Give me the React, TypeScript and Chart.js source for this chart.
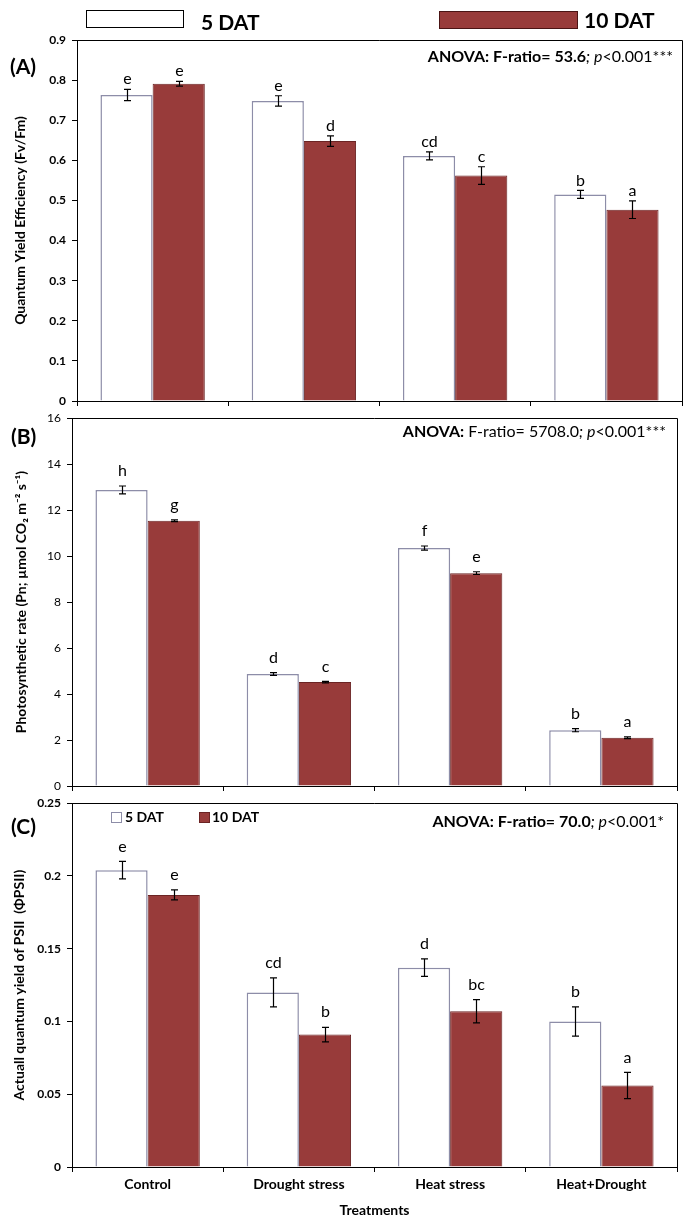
import React, { useEffect, useRef } from 'react';
import { Chart, registerables } from 'chart.js';
Chart.register(...registerables);

// ---------------- DATA ----------------
const categories = ['Control', 'Drought stress', 'Heat stress', 'Heat+Drought'];
const seriesNames = ['5 DAT', '10 DAT'];
const xTitle = 'Treatments';

// (A) Quantum yield efficiency (Fv/Fm)
const fvfm5 = [0.763, 0.748, 0.611, 0.515];
const fvfm10 = [0.791, 0.648, 0.562, 0.477];
const fvfmErr5 = [0.014, 0.013, 0.01, 0.01];
const fvfmErr10 = [0.006, 0.013, 0.022, 0.022];
const fvfmLetters5 = ['e', 'e', 'cd', 'b'];
const fvfmLetters10 = ['e', 'd', 'c', 'a'];
const fvfmTicks = { max: 0.9, step: 0.1 };

// (B) Photosynthetic rate
const pn5 = [12.88, 4.87, 10.35, 2.43];
const pn10 = [11.54, 4.52, 9.26, 2.1];
const pnErr5 = [0.17, 0.06, 0.09, 0.07];
const pnErr10 = [0.04, 0.03, 0.06, 0.04];
const pnLetters5 = ['h', 'd', 'f', 'b'];
const pnLetters10 = ['g', 'c', 'e', 'a'];
const pnTicks = { max: 16, step: 2 };

// (C) Actual quantum yield of PSII
const phi5 = [0.204, 0.12, 0.137, 0.1];
const phi10 = [0.187, 0.091, 0.107, 0.056];
const phiErr5 = [0.006, 0.01, 0.006, 0.01];
const phiErr10 = [0.0035, 0.005, 0.008, 0.009];
const phiLetters5 = ['e', 'cd', 'd', 'b'];
const phiLetters10 = ['e', 'b', 'bc', 'a'];
const phiTicks = { max: 0.25, step: 0.05 };

// ---------------- STYLE ----------------
const W = 688;
const FONT = 'Lato, "Open Sans", sans-serif';
const RED = '#983b3a';
const RED_BORDER = '#6b2424';
const WHITE_BORDER = '#8d8da8';

type Seg = { t: string; f: string };

function drawSegs(ctx: CanvasRenderingContext2D, segs: Seg[], xRight: number, yMid: number) {
  let total = 0;
  segs.forEach((s) => {
    ctx.font = s.f;
    total += ctx.measureText(s.t).width;
  });
  let x = xRight - total;
  ctx.textBaseline = 'middle';
  ctx.textAlign = 'left';
  ctx.fillStyle = '#000';
  segs.forEach((s) => {
    ctx.font = s.f;
    ctx.fillText(s.t, x, yMid);
    x += ctx.measureText(s.t).width;
  });
}

const fmt = (v: number) => String(Number(Number(v).toFixed(3)));

type Spec = {
  top: number;
  height: number;
  padTop: number;
  padRight: number;
  yWidth: number;
  xHeight: number;
  d5: number[];
  d10: number[];
  e5: number[];
  e10: number[];
  l5: string[];
  l10: string[];
  yMax: number;
  yStep: number;
  yTitle: string;
  tickBold: boolean;
  showX: boolean;
  letterGap: number;
  titlePad: number;
  label: string;
  labelPos: [number, number];
  anova: Seg[];
  anovaPos: [number, number];
  extra?: (ctx: CanvasRenderingContext2D, off: number) => void;
};

const B16 = `bold 16px ${FONT}`;
const N16 = `16px ${FONT}`;
const I16 = `italic 16px ${FONT}`;

const specs: Spec[] = [
  {
    top: 0,
    height: 415,
    padTop: 40,
    padRight: 6,
    yWidth: 77,
    xHeight: 14,
    d5: fvfm5,
    d10: fvfm10,
    e5: fvfmErr5,
    e10: fvfmErr10,
    l5: fvfmLetters5,
    l10: fvfmLetters10,
    yMax: fvfmTicks.max,
    yStep: fvfmTicks.step,
    yTitle: 'Quantum Yield Efficiency (Fv/Fm)',
    tickBold: true,
    showX: false,
    letterGap: 10,
    titlePad: 12,
    label: '(A)',
    labelPos: [10, 67],
    anova: [
      { t: 'ANOVA: F-ratio= 53.6', f: B16 },
      { t: '; p', f: I16 },
      { t: '<0.001***', f: N16 },
    ],
    anovaPos: [673, 57],
    extra: (ctx, off) => {
      ctx.save();
      ctx.fillStyle = '#fff';
      ctx.strokeStyle = '#000';
      ctx.lineWidth = 1;
      ctx.fillRect(86, 10 - off, 97, 17);
      ctx.strokeRect(86.5, 10.5 - off, 97, 17);
      ctx.fillStyle = RED;
      ctx.strokeStyle = '#4a1414';
      ctx.fillRect(439, 11 - off, 138, 17);
      ctx.strokeRect(439.5, 11.5 - off, 138, 17);
      ctx.fillStyle = '#000';
      ctx.font = `bold 21px ${FONT}`;
      ctx.textBaseline = 'middle';
      ctx.textAlign = 'left';
      ctx.fillText(seriesNames[0], 201, 23 - off);
      ctx.fillText(seriesNames[1], 584, 21 - off);
      ctx.restore();
    },
  },
  {
    top: 405,
    height: 395,
    padTop: 12,
    padRight: 11,
    yWidth: 72,
    xHeight: 14,
    d5: pn5,
    d10: pn10,
    e5: pnErr5,
    e10: pnErr10,
    l5: pnLetters5,
    l10: pnLetters10,
    yMax: pnTicks.max,
    yStep: pnTicks.step,
    yTitle: 'Photosynthetic rate (Pn; µmol CO₂ m⁻² s⁻¹)',
    tickBold: false,
    showX: false,
    letterGap: 15,
    titlePad: 13,
    label: '(B)',
    labelPos: [11, 437],
    anova: [
      { t: 'ANOVA:', f: B16 },
      { t: ' F-ratio= 5708.0', f: N16 },
      { t: '; p', f: I16 },
      { t: '<0.001***', f: N16 },
    ],
    anovaPos: [666, 432],
  },
  {
    top: 790,
    height: 433,
    padTop: 12,
    padRight: 11,
    yWidth: 72,
    xHeight: 56,
    d5: phi5,
    d10: phi10,
    e5: phiErr5,
    e10: phiErr10,
    l5: phiLetters5,
    l10: phiLetters10,
    yMax: phiTicks.max,
    yStep: phiTicks.step,
    yTitle: 'Actuall quantum yield of PSII  (ΦPSII)',
    tickBold: true,
    showX: true,
    letterGap: 15,
    titlePad: 11,
    label: '(C)',
    labelPos: [11, 827],
    anova: [
      { t: 'ANOVA: F-ratio= 70.0', f: B16 },
      { t: '; p', f: I16 },
      { t: '<0.001*', f: N16 },
    ],
    anovaPos: [664, 822],
    extra: (ctx, off) => {
      ctx.save();
      ctx.lineWidth = 1;
      ctx.fillStyle = '#fff';
      ctx.strokeStyle = WHITE_BORDER;
      ctx.fillRect(111, 812 - off, 10, 10);
      ctx.strokeRect(111.5, 812.5 - off, 10, 10);
      ctx.fillStyle = RED;
      ctx.strokeStyle = RED_BORDER;
      ctx.fillRect(199, 812 - off, 10, 10);
      ctx.strokeRect(199.5, 812.5 - off, 10, 10);
      ctx.fillStyle = '#000';
      ctx.font = `bold 14px ${FONT}`;
      ctx.textBaseline = 'middle';
      ctx.textAlign = 'left';
      ctx.fillText(seriesNames[0], 125, 817 - off);
      ctx.fillText(seriesNames[1], 212, 817 - off);
      ctx.restore();
    },
  },
];

function buildConfig(spec: Spec): any {
  const off = spec.top;
  const overlay = {
    id: 'overlay' + spec.label,
    afterDatasetsDraw(chart: any) {
      const ctx = chart.ctx as CanvasRenderingContext2D;
      const y = chart.scales.y;
      const errs = [spec.e5, spec.e10];
      const letters = [spec.l5, spec.l10];
      chart.data.datasets.forEach((ds: any, di: number) => {
        const meta = chart.getDatasetMeta(di);
        meta.data.forEach((bar: any, i: number) => {
          const v = ds.data[i];
          const e = errs[di][i];
          const x = Math.round(bar.x) + 0.5;
          const yTop = y.getPixelForValue(v + e);
          const yBot = y.getPixelForValue(v - e);
          ctx.save();
          ctx.strokeStyle = '#000';
          ctx.lineWidth = 1.2;
          ctx.beginPath();
          ctx.moveTo(x, yTop);
          ctx.lineTo(x, yBot);
          ctx.moveTo(x - 3.5, yTop);
          ctx.lineTo(x + 3.5, yTop);
          ctx.moveTo(x - 3.5, yBot);
          ctx.lineTo(x + 3.5, yBot);
          ctx.stroke();
          ctx.fillStyle = '#000';
          ctx.font = `16px ${FONT}`;
          ctx.textAlign = 'center';
          ctx.textBaseline = 'middle';
          ctx.fillText(letters[di][i], x, yTop - spec.letterGap);
          ctx.restore();
        });
      });
    },
    afterDraw(chart: any) {
      const ctx = chart.ctx as CanvasRenderingContext2D;
      const a = chart.chartArea;
      ctx.save();
      ctx.strokeStyle = '#000';
      ctx.lineWidth = 1;
      ctx.beginPath();
      ctx.moveTo(a.left, Math.round(a.top) + 0.5);
      ctx.lineTo(Math.round(a.right) + 0.5, Math.round(a.top) + 0.5);
      ctx.lineTo(Math.round(a.right) + 0.5, a.bottom);
      ctx.stroke();
      ctx.fillStyle = '#000';
      ctx.font = `bold 21px ${FONT}`;
      ctx.textAlign = 'left';
      ctx.textBaseline = 'middle';
      ctx.fillText(spec.label, spec.labelPos[0], spec.labelPos[1] - off);
      drawSegs(ctx, spec.anova, spec.anovaPos[0], spec.anovaPos[1] - off);
      ctx.restore();
      if (spec.extra) spec.extra(ctx, off);
    },
  };

  return {
    type: 'bar',
    data: {
      labels: categories,
      datasets: [
        {
          label: seriesNames[0],
          data: spec.d5,
          backgroundColor: '#ffffff',
          borderColor: WHITE_BORDER,
          borderWidth: 1.5,
          categoryPercentage: 0.69,
          barPercentage: 1,
        },
        {
          label: seriesNames[1],
          data: spec.d10,
          backgroundColor: RED,
          borderColor: RED_BORDER,
          borderWidth: 1,
          categoryPercentage: 0.69,
          barPercentage: 1,
        },
      ],
    },
    options: {
      responsive: false,
      animation: false,
      devicePixelRatio: 1,
      layout: { padding: { top: spec.padTop, right: spec.padRight, left: 0, bottom: 0 } },
      plugins: { legend: { display: false }, tooltip: { enabled: false } },
      scales: {
        x: {
          offset: true,
          grid: {
            display: true,
            drawOnChartArea: false,
            drawTicks: true,
            tickLength: 5,
            color: '#000',
            lineWidth: 1,
            offset: true,
          },
          border: { display: true, color: '#000', width: 1 },
          ticks: {
            display: spec.showX,
            color: '#000',
            font: { family: FONT, size: 14, weight: 'bold' },
            padding: 4,
            maxRotation: 0,
            autoSkip: false,
          },
          title: {
            display: spec.showX,
            text: xTitle,
            color: '#000',
            font: { family: FONT, size: 14, weight: 'bold' },
            padding: { top: 4, bottom: 4 },
          },
          afterFit: (s: any) => {
            s.height = spec.xHeight;
          },
        },
        y: {
          min: 0,
          max: spec.yMax,
          ticks: {
            stepSize: spec.yStep,
            color: '#000',
            font: { family: FONT, size: 12, weight: spec.tickBold ? 'bold' : 'normal' },
            padding: 6,
            callback: (v: any) => fmt(v),
          },
          grid: { drawOnChartArea: false, drawTicks: true, tickLength: 5, color: '#000' },
          border: { display: true, color: '#000', width: 1 },
          title: {
            display: true,
            text: spec.yTitle,
            color: '#000',
            font: { family: FONT, size: 14, weight: 'bold' },
            padding: { top: spec.titlePad, bottom: 0 },
          },
          afterFit: (s: any) => {
            s.width = spec.yWidth;
          },
        },
      },
    },
    plugins: [overlay],
  };
}

function BarPanel({ spec }: { spec: Spec }) {
  const ref = useRef<HTMLCanvasElement | null>(null);
  useEffect(() => {
    if (!ref.current) return;
    const chart = new Chart(ref.current, buildConfig(spec));
    return () => chart.destroy();
  }, [spec]);
  return (
    <canvas
      ref={ref}
      width={W}
      height={spec.height}
      style={{ position: 'absolute', left: 0, top: spec.top, width: W, height: spec.height }}
    />
  );
}

export default function App() {
  return (
    <div
      style={{
        position: 'absolute',
        left: 0,
        top: 0,
        width: W,
        height: 1223,
        background: '#fff',
        overflow: 'hidden',
      }}
    >
      {specs.map((s) => (
        <BarPanel key={s.label} spec={s} />
      ))}
    </div>
  );
}
